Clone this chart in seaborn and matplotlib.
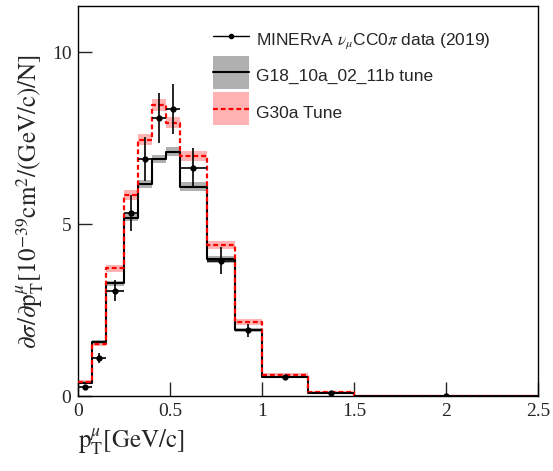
import numpy as np
import pandas as pd
import matplotlib
matplotlib.use('Agg')
from matplotlib import pyplot as plt
from matplotlib.patches import Patch, Rectangle
from matplotlib.lines import Line2D
from matplotlib.legend_handler import HandlerPatch
import seaborn as sns

# pT bin edges (GeV/c)
edges = [0, 0.075, 0.15, 0.25, 0.325, 0.4, 0.475, 0.55, 0.7, 0.85, 1.0, 1.25, 1.5, 2.5]

# G18_10a_02_11b tune prediction and band half width
g18 = [0.40, 1.59, 3.29, 5.20, 6.18, 6.90, 7.12, 6.10, 3.99, 1.93, 0.56, 0.11, 0.005]
g18_err = [0.04, 0.06, 0.08, 0.10, 0.12, 0.12, 0.12, 0.12, 0.10, 0.06, 0.03, 0.02, 0.005]

# G30a tune prediction and band half width
g30 = [0.42, 1.52, 3.73, 5.86, 7.46, 8.47, 7.96, 6.99, 4.40, 2.16, 0.63, 0.14, 0.005]
g30_err = [0.05, 0.06, 0.10, 0.14, 0.16, 0.17, 0.16, 0.15, 0.12, 0.08, 0.04, 0.02, 0.005]

# MINERvA data points
data = [0.27, 1.11, 3.08, 5.33, 6.90, 8.09, 8.35, 6.63, 3.95, 1.93, 0.56, 0.09, 0.005]
data_err = [0.05, 0.14, 0.31, 0.52, 0.65, 0.72, 0.73, 0.58, 0.39, 0.19, 0.07, 0.03, 0.02]

e = np.array(edges)
centers = 0.5 * (e[1:] + e[:-1])
halfw = 0.5 * (e[1:] - e[:-1])
df = pd.DataFrame({'pt': centers, 'g18': g18, 'g30': g30})

sns.set_style('ticks')
plt.rcParams['mathtext.fontset'] = 'stix'
serif = ['Liberation Serif', 'DejaVu Serif']
red_dash = (0, (2.2, 1.3))

fig = plt.figure(figsize=(5.53, 4.71), dpi=100)
ax = fig.add_axes([0.1416, 0.1582, 0.9734 - 0.1416, 0.9873 - 0.1582])

def band(vals, errs, color, z):
    lo = np.append(np.array(vals) - np.array(errs), vals[-1] - errs[-1])
    hi = np.append(np.array(vals) + np.array(errs), vals[-1] + errs[-1])
    ax.fill_between(e, lo, hi, step='post', color=color, lw=0, zorder=z)

band(g30, g30_err, '#ffb3b3', 1)
band(g18, g18_err, '#b0b0b0', 2)

sns.histplot(data=df, x='pt', weights='g18', bins=edges, element='step', fill=False,
             color='black', lw=1.5, ax=ax, zorder=3)
sns.histplot(data=df, x='pt', weights='g30', bins=edges, element='step', fill=False,
             color='red', lw=1.6, linestyle=red_dash, ax=ax, zorder=4)

ax.errorbar(centers, data, xerr=halfw, yerr=data_err, fmt='o', color='black',
            ms=3.5, elinewidth=1.2, capsize=0, zorder=5)

ax.set_xlim(0, 2.5)
ax.set_ylim(0, 11.35)
ax.set_xticks([0, 0.5, 1, 1.5, 2, 2.5])
ax.set_xticklabels(['0', '0.5', '1', '1.5', '2', '2.5'])
ax.set_yticks([0, 5, 10])
ax.tick_params(direction='in', length=10, width=1, labelsize=14, pad=5,
               top=False, right=False)
for lab in ax.get_xticklabels() + ax.get_yticklabels():
    lab.set_family(serif)
for s in ax.spines.values():
    s.set_visible(True)
    s.set_linewidth(1.0)
    s.set_color('black')

ax.set_xlabel(r'$\mathrm{p}_{\mathrm{T}}^{\mu}[\mathrm{GeV/c}]$', fontsize=18,
              loc='left', labelpad=4)
ax.set_ylabel(r'$\partial\sigma/\partial\mathrm{p}_{\mathrm{T}}^{\mu}[10^{-39}\mathrm{cm}^{2}/(\mathrm{GeV/c})/\mathrm{N}]$',
              fontsize=18, labelpad=4)

# tall legend boxes, centred on the legend line
def tall_box(legend, orig_handle, xdescent, ydescent, width, height, fontsize):
    h = 1.9 * fontsize
    yc = (height - ydescent) / 2
    return Rectangle((-xdescent, yc - h / 2), width, h)

handles = [
    Line2D([], [], color='black', lw=1, marker='o', ms=3),
    (Patch(facecolor='#b0b0b0', edgecolor='none'), Line2D([], [], color='black', lw=1.5)),
    (Patch(facecolor='#ffb3b3', edgecolor='none'),
     Line2D([], [], color='red', lw=1.6, linestyle=red_dash)),
]
labels = [r'MINERvA $\nu_{\mu}$CC0$\pi$ data (2019)', 'G18_10a_02_11b tune', 'G30a Tune']
leg = fig.legend(handles, labels, loc='upper left', bbox_to_anchor=(213 / 553, 1 - 27 / 471),
                 frameon=False, borderpad=0, borderaxespad=0, handlelength=2.1,
                 handleheight=1.8, handletextpad=0.4, labelspacing=0.68,
                 handler_map={Patch: HandlerPatch(patch_func=tall_box)},
                 prop={'family': ['Liberation Sans', 'DejaVu Sans'], 'size': 12.5})

fig.savefig('out.png', dpi=100)
